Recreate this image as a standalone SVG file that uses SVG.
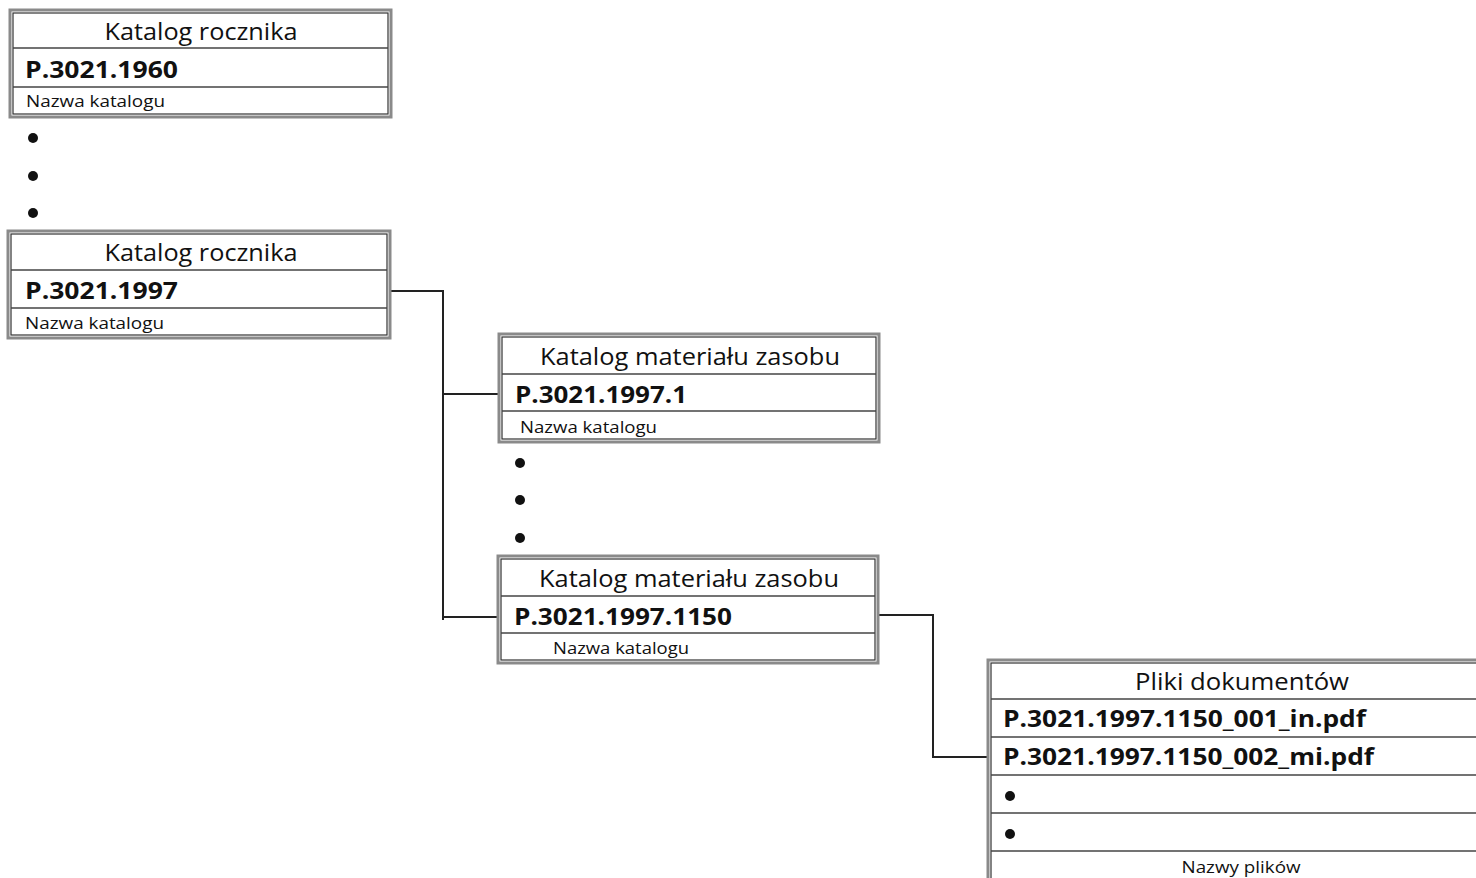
<svg xmlns="http://www.w3.org/2000/svg" width="1476" height="878" viewBox="0 0 1476 878">
<style>
.o{fill:#fff;stroke:#8a8a8a;stroke-width:3}
.i{fill:none;stroke:#333;stroke-width:1.2}
.d{stroke:#444;stroke-width:1.3}
text{font-family:"Open Sans","Noto Sans","Liberation Sans",sans-serif;fill:#111}
.t{font-size:24px;text-anchor:middle}
.b{font-size:24px;font-weight:bold}
.s{font-size:17px}
.c{fill:none;stroke:#222;stroke-width:2}
.dot{fill:#111}
</style>
<rect width="1476" height="878" fill="#fff"/>
<g id="connectors">
<polyline class="c" points="390,291 443,291 443,620"/>
<line class="c" x1="443" y1="394" x2="500" y2="394"/>
<line class="c" x1="443" y1="617" x2="499" y2="617"/>
<polyline class="c" points="878,615 933,615 933,757 989,757"/>
</g>
<g id="box1">
<rect class="o" x="10" y="10" width="381" height="107"/>
<rect class="i" x="13" y="13" width="375" height="101"/>
<line class="d" x1="13" y1="48" x2="388" y2="48"/>
<line class="d" x1="13" y1="87" x2="388" y2="87"/>
<text class="t" x="201" y="40" textLength="193" lengthAdjust="spacingAndGlyphs">Katalog rocznika</text>
<text class="b" x="25" y="78" textLength="153" lengthAdjust="spacingAndGlyphs">P.3021.1960</text>
<text class="s" x="26" y="107" textLength="139" lengthAdjust="spacingAndGlyphs">Nazwa katalogu</text>
</g>
<g id="dots1">
<circle class="dot" cx="33" cy="138" r="5"/>
<circle class="dot" cx="33" cy="176" r="5"/>
<circle class="dot" cx="33" cy="213" r="5"/>
</g>
<g id="box2">
<rect class="o" x="8" y="231" width="382" height="107"/>
<rect class="i" x="11" y="234" width="376" height="101"/>
<line class="d" x1="11" y1="270" x2="387" y2="270"/>
<line class="d" x1="11" y1="308" x2="387" y2="308"/>
<text class="t" x="201" y="261" textLength="193" lengthAdjust="spacingAndGlyphs">Katalog rocznika</text>
<text class="b" x="25" y="299" textLength="153" lengthAdjust="spacingAndGlyphs">P.3021.1997</text>
<text class="s" x="25" y="329" textLength="139" lengthAdjust="spacingAndGlyphs">Nazwa katalogu</text>
</g>
<g id="box3">
<rect class="o" x="499" y="334" width="380" height="108"/>
<rect class="i" x="502" y="337" width="374" height="102"/>
<line class="d" x1="502" y1="374" x2="876" y2="374"/>
<line class="d" x1="502" y1="411" x2="876" y2="411"/>
<text class="t" x="690" y="365" textLength="300" lengthAdjust="spacingAndGlyphs">Katalog materiału zasobu</text>
<text class="b" x="515" y="403" textLength="172" lengthAdjust="spacingAndGlyphs">P.3021.1997.1</text>
<text class="s" x="520" y="433" textLength="137" lengthAdjust="spacingAndGlyphs">Nazwa katalogu</text>
</g>
<g id="dots2">
<circle class="dot" cx="520" cy="463" r="5"/>
<circle class="dot" cx="520" cy="500" r="5"/>
<circle class="dot" cx="520" cy="538" r="5"/>
</g>
<g id="box4">
<rect class="o" x="498" y="556" width="380" height="107"/>
<rect class="i" x="501" y="559" width="374" height="101"/>
<line class="d" x1="501" y1="596" x2="875" y2="596"/>
<line class="d" x1="501" y1="633" x2="875" y2="633"/>
<text class="t" x="689" y="587" textLength="300" lengthAdjust="spacingAndGlyphs">Katalog materiału zasobu</text>
<text class="b" x="514" y="625" textLength="218" lengthAdjust="spacingAndGlyphs">P.3021.1997.1150</text>
<text class="s" x="553" y="654" textLength="136" lengthAdjust="spacingAndGlyphs">Nazwa katalogu</text>
</g>
<g id="box5">
<rect class="o" x="988" y="660" width="500" height="230"/>
<rect class="i" x="991" y="663" width="500" height="230"/>
<line class="d" x1="991" y1="699" x2="1476" y2="699"/>
<line class="d" x1="991" y1="737" x2="1476" y2="737"/>
<line class="d" x1="991" y1="775" x2="1476" y2="775"/>
<line class="d" x1="991" y1="813" x2="1476" y2="813"/>
<line class="d" x1="991" y1="851" x2="1476" y2="851"/>
<text class="t" x="1242" y="690" textLength="214" lengthAdjust="spacingAndGlyphs">Pliki dokumentów</text>
<text class="b" x="1003" y="727" textLength="363" lengthAdjust="spacingAndGlyphs">P.3021.1997.1150_001_in.pdf</text>
<text class="b" x="1003" y="765" textLength="371" lengthAdjust="spacingAndGlyphs">P.3021.1997.1150_002_mi.pdf</text>
<circle class="dot" cx="1010" cy="796" r="5"/>
<circle class="dot" cx="1010" cy="834" r="5"/>
<text class="s" x="1241" y="873" text-anchor="middle" textLength="119" lengthAdjust="spacingAndGlyphs">Nazwy plików</text>
</g>
</svg>
